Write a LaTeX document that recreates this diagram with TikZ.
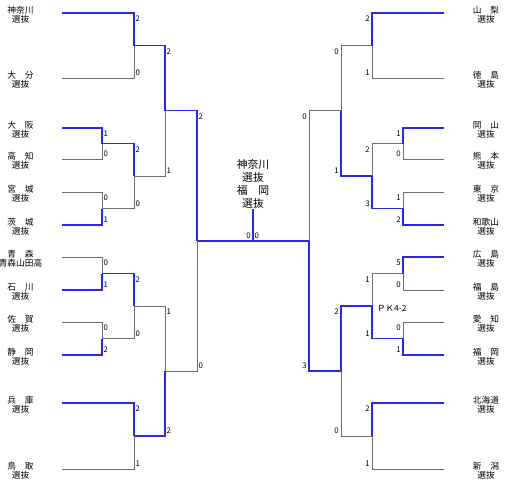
\documentclass[tikz,border=0pt]{standalone}
\usepackage{fontspec}
\newfontfamily\jp{Noto Sans CJK JP}

\definecolor{winblue}{RGB}{40, 40, 230}
\definecolor{losegray}{RGB}{110, 110, 110}

\tikzset{
  win/.style={winblue, line width=1.2pt},
  lose/.style={losegray, line width=0.7pt},
  team/.style={font=\jp\fontsize{8.7}{8.8}\selectfont, align=center, inner sep=0pt},
  scoreL/.style={font=\jp\fontsize{7.8}{7.8}\selectfont, anchor=west, inner sep=0pt, xshift=1.5pt},
  scoreR/.style={font=\jp\fontsize{7.8}{7.8}\selectfont, anchor=east, inner sep=0pt, xshift=-2pt}
}

\begin{document}
\begin{tikzpicture}[x=1pt, y=-1pt]

            \useasboundingbox (0,0) rectangle (518,483);

            % teams, left
            \node[team] (kanagawa) at (20.5,15) {神奈川\\選抜};
            \node[team] (oita) at (20.5,80) {大　分\\選抜};
            \node[team] (osaka) at (20.5,130) {大　阪\\選抜};
            \node[team] (kochi) at (20.5,161) {高　知\\選抜};
            \node[team] (miyagi) at (20.5,194) {宮　城\\選抜};
            \node[team] (ibaraki) at (20.5,227) {茨　城\\選抜};
            \node[team] (aomori) at (20.5,259) {青　森\\青森山田高};
            \node[team] (ishikawa) at (20.5,292) {石　川\\選抜};
            \node[team] (saga) at (20.5,324) {佐　賀\\選抜};
            \node[team] (shizuoka) at (20.5,357) {静　岡\\選抜};
            \node[team] (hyogo) at (20.5,405) {兵　庫\\選抜};
            \node[team] (tottori) at (20.5,471) {鳥　取\\選抜};

            \coordinate (kanagawa line) at (62,13);
            \coordinate (oita line) at (62,78);
            \coordinate (osaka line) at (62,128);
            \coordinate (kochi line) at (62,159);
            \coordinate (miyagi line) at (62,192);
            \coordinate (ibaraki line) at (62,225);
            \coordinate (aomori line) at (62,257);
            \coordinate (ishikawa line) at (62,290);
            \coordinate (saga line) at (62,322);
            \coordinate (shizuoka line) at (62,355);
            \coordinate (hyogo line) at (62,403);
            \coordinate (tottori line) at (62,469);

            % teams, right
            \node[team] (yamanashi) at (486,15) {山　梨\\選抜};
            \node[team] (tokushima) at (486,80) {徳　島\\選抜};
            \node[team] (okayama) at (486,130) {岡　山\\選抜};
            \node[team] (kumamoto) at (486,161) {熊　本\\選抜};
            \node[team] (tokyo) at (486,194) {東　京\\選抜};
            \node[team] (wakayama) at (486,227) {和歌山\\選抜};
            \node[team] (hiroshima) at (486,259) {広　島\\選抜};
            \node[team] (fukushima) at (486,292) {福　島\\選抜};
            \node[team] (aichi) at (486,324) {愛　知\\選抜};
            \node[team] (fukuoka) at (486,357) {福　岡\\選抜};
            \node[team] (hokkaido) at (486,405) {北海道\\選抜};
            \node[team] (niigata) at (486,471) {新　潟\\選抜};

            \coordinate (yamanashi line) at (444,13);
            \coordinate (tokushima line) at (444,78);
            \coordinate (okayama line) at (444,128);
            \coordinate (kumamoto line) at (444,159);
            \coordinate (tokyo line) at (444,192);
            \coordinate (wakayama line) at (444,225);
            \coordinate (hiroshima line) at (444,257);
            \coordinate (fukushima line) at (444,290);
            \coordinate (aichi line) at (444,322);
            \coordinate (fukuoka line) at (444,355);
            \coordinate (hokkaido line) at (444,403);
            \coordinate (niigata line) at (444,469);

            % junctions
            \coordinate (l1a) at (102,143.5);
            \coordinate (l1b) at (102,208.5);
            \coordinate (l1c) at (102,273.5);
            \coordinate (l1d) at (102,338.5);
            \coordinate (l2a) at (134,45.5);
            \coordinate (l2b) at (134,176);
            \coordinate (l2c) at (134,306);
            \coordinate (l2d) at (134,436);
            \coordinate (l3a) at (165,110.75);
            \coordinate (l3b) at (165,371);
            \coordinate (l4) at (197,241);
            \coordinate (r1a) at (403,143.5);
            \coordinate (r1b) at (403,208.5);
            \coordinate (r1c) at (403,273.5);
            \coordinate (r1d) at (403,338.5);
            \coordinate (r2a) at (372,45.5);
            \coordinate (r2b) at (372,176);
            \coordinate (r2c) at (372,306);
            \coordinate (r2d) at (372,436);
            \coordinate (r3a) at (341,110.75);
            \coordinate (r3b) at (341,371);
            \coordinate (r4) at (309,241);
            \coordinate (final) at (253,241);
            \coordinate (champ) at (253,209);

            % losers
            \draw[lose] (oita line) -| (l2a);
            \draw[lose] (kochi line) -| (l1a);
            \draw[lose] (miyagi line) -| (l1b);
            \draw[lose] (aomori line) -| (l1c);
            \draw[lose] (saga line) -| (l1d);
            \draw[lose] (tottori line) -| (l2d);
            \draw[lose] (l1b) -| (l2b);
            \draw[lose] (l1d) -| (l2c);
            \draw[lose] (l2b) -| (l3a);
            \draw[lose] (l2c) -| (l3b);
            \draw[lose] (l3b) -| (l4);
            \draw[lose] (tokushima line) -| (r2a);
            \draw[lose] (kumamoto line) -| (r1a);
            \draw[lose] (tokyo line) -| (r1b);
            \draw[lose] (fukushima line) -| (r1c);
            \draw[lose] (aichi line) -| (r1d);
            \draw[lose] (niigata line) -| (r2d);
            \draw[lose] (r1a) -| (r2b);
            \draw[lose] (r1c) -| (r2c);
            \draw[lose] (r2a) -| (r3a);
            \draw[lose] (r2d) -| (r3b);
            \draw[lose] (r3a) -| (r4);

            % winners
            \draw[win] (kanagawa line) -| (l2a);
            \draw[win] (osaka line) -| (l1a);
            \draw[win] (ibaraki line) -| (l1b);
            \draw[win] (ishikawa line) -| (l1c);
            \draw[win] (shizuoka line) -| (l1d);
            \draw[win] (hyogo line) -| (l2d);
            \draw[win] (l1a) -| (l2b);
            \draw[win] (l1c) -| (l2c);
            \draw[win] (l2a) -| (l3a);
            \draw[win] (l2d) -| (l3b);
            \draw[win] (l3a) -| (l4);
            \draw[win] (l4) -- (final);
            \draw[win] (yamanashi line) -| (r2a);
            \draw[win] (okayama line) -| (r1a);
            \draw[win] (wakayama line) -| (r1b);
            \draw[win] (hiroshima line) -| (r1c);
            \draw[win] (fukuoka line) -| (r1d);
            \draw[win] (hokkaido line) -| (r2d);
            \draw[win] (r1b) -| (r2b);
            \draw[win] (r1d) -| (r2c);
            \draw[win] (r2b) -| (r3a);
            \draw[win] (r2c) -| (r3b);
            \draw[win] (r3b) -| (r4);
            \draw[win] (r4) -- (final);
            \draw[win] (final) -- (champ);

            \node[align=center, inner sep=0pt, font=\jp\fontsize{10.8}{13.2}\selectfont] (champion) at (253,184) {神奈川\\選抜\\福　岡\\選抜};

            % scores, left
            \node[scoreL] (sc osaka1) at (102,134) {1};
            \node[scoreL] (sc kochi1) at (102,154) {0};
            \node[scoreL] (sc miyagi1) at (102,198) {0};
            \node[scoreL] (sc ibaraki1) at (102,220) {1};
            \node[scoreL] (sc aomori1) at (102,263) {0};
            \node[scoreL] (sc ishikawa1) at (102,285) {1};
            \node[scoreL] (sc saga1) at (102,328) {0};
            \node[scoreL] (sc shizuoka1) at (102,350) {2};
            \node[scoreL] (sc kanagawa2) at (134,19) {2};
            \node[scoreL] (sc oita2) at (134,73) {0};
            \node[scoreL] (sc osaka2) at (134,149.5) {2};
            \node[scoreL] (sc ibaraki2) at (134,203.5) {0};
            \node[scoreL] (sc ishikawa2) at (134,279.5) {2};
            \node[scoreL] (sc shizuoka2) at (134,333.5) {0};
            \node[scoreL] (sc hyogo2) at (134,409) {2};
            \node[scoreL] (sc tottori2) at (134,464) {1};
            \node[scoreL] (sc kanagawa3) at (165,51.5) {2};
            \node[scoreL] (sc osaka3) at (165,171) {1};
            \node[scoreL] (sc ishikawa3) at (165,312) {1};
            \node[scoreL] (sc hyogo3) at (165,431) {2};
            \node[scoreL] (sc kanagawa4) at (197,117) {2};
            \node[scoreL] (sc hyogo4) at (197,366) {0};
            \node[scoreR] (sc kanagawa5) at (253,236) {0};

            % scores, right
            \node[scoreR] (sc okayama1) at (403,134) {1};
            \node[scoreR] (sc kumamoto1) at (403,154) {0};
            \node[scoreR] (sc tokyo1) at (403,198) {1};
            \node[scoreR] (sc wakayama1) at (403,220) {2};
            \node[scoreR] (sc hiroshima1) at (403,263) {5};
            \node[scoreR] (sc fukushima1) at (403,285) {0};
            \node[scoreR] (sc aichi1) at (403,328) {0};
            \node[scoreR] (sc fukuoka1) at (403,350) {1};
            \node[scoreR] (sc yamanashi2) at (372,19) {2};
            \node[scoreR] (sc tokushima2) at (372,73) {1};
            \node[scoreR] (sc okayama2) at (372,149.5) {2};
            \node[scoreR] (sc wakayama2) at (372,203.5) {3};
            \node[scoreR] (sc hiroshima2) at (372,279.5) {1};
            \node[scoreR] (sc fukuoka2) at (372,333.5) {1};
            \node[scoreR] (sc hokkaido2) at (372,409) {2};
            \node[scoreR] (sc niigata2) at (372,464) {1};
            \node[scoreR] (sc yamanashi3) at (341,51.5) {0};
            \node[scoreR] (sc wakayama3) at (341,171) {1};
            \node[scoreR] (sc fukuoka3) at (341,312) {2};
            \node[scoreR] (sc hokkaido3) at (341,431) {0};
            \node[scoreR] (sc wakayama4) at (309,117) {0};
            \node[scoreR] (sc fukuoka4) at (309,366) {3};
            \node[scoreL] (sc fukuoka5) at (253,236) {0};

            \node[anchor=west, inner sep=0pt, font=\jp\fontsize{8.5}{8.5}\selectfont] (pk) at (377,308) {ＰＫ4-2};

        \end{tikzpicture}
\end{document}
